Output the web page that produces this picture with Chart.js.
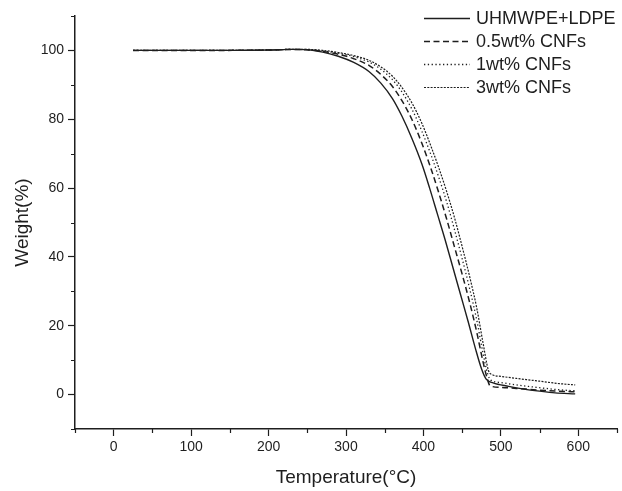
<!DOCTYPE html>
<html>
<head>
<meta charset="utf-8">
<script src="https://cdn.jsdelivr.net/npm/chart.js@4.4.1/dist/chart.umd.min.js"></script>
<style>
  html, body { margin: 0; padding: 0; background: #fff; }
  #wrap { width: 622px; height: 491px; }
</style>
</head>
<body>
<div id="wrap"><canvas id="myChart" width="622" height="491"></canvas></div>
<script>
// series labels
const seriesLabels = ['UHMWPE+LDPE', '0.5wt% CNFs', '1wt% CNFs', '3wt% CNFs'];

// temperature (°C) / weight (%)
const tempNeat = [25, 100, 150, 200, 230, 250, 270, 290, 310, 330, 345, 360, 372, 385, 398, 408, 418, 428, 438, 448, 458, 467, 475, 481, 490, 510, 530, 550, 570, 596];
const weightNeat = [100, 100, 100, 100.1, 100.3, 100.2, 99.5, 98.3, 96.5, 93.8, 90.5, 86, 81, 74.5, 67, 60, 52.5, 45, 37, 29, 21, 13.5, 7.5, 4.5, 3.4, 2.4, 1.6, 1, 0.5, 0.2];

const temp05 = [25, 100, 200, 230, 250, 270, 290, 310, 330, 345, 360, 372, 385, 398, 410, 420, 430, 440, 450, 460, 469, 477, 482, 486, 500, 520, 550, 575, 596];
const weight05 = [100, 100, 100.1, 100.3, 100.2, 99.7, 98.9, 97.6, 95.6, 93, 89.5, 85.5, 80, 73, 65.5, 58.5, 51, 43, 35, 26.5, 18, 9.5, 5, 2.6, 2.1, 1.8, 1.3, 1, 0.8];

const temp1 = [25, 100, 200, 230, 250, 270, 290, 310, 330, 345, 360, 372, 385, 398, 410, 420, 430, 440, 450, 460, 469, 477, 483, 487, 500, 520, 550, 575, 596];
const weight1 = [100, 100, 100.1, 100.3, 100.2, 99.8, 99.2, 98.2, 96.6, 94.5, 91.5, 88, 83, 76.5, 69.5, 63, 56, 48, 39.5, 30.5, 21.5, 12, 6, 4.2, 3.5, 2.8, 2, 1.4, 1.1];

const temp3 = [25, 100, 200, 230, 250, 270, 290, 310, 330, 345, 360, 372, 385, 398, 410, 420, 430, 440, 450, 460, 469, 477, 484, 489, 500, 520, 550, 575, 596];
const weight3 = [100, 100, 100.1, 100.3, 100.3, 100, 99.4, 98.5, 97.1, 95.2, 92.5, 89.3, 84.8, 78.8, 72, 65.8, 59, 51.5, 43, 34, 25, 15, 7, 5.8, 5.3, 4.7, 3.9, 3.2, 2.8];

// tick values
const xMajorTicks = [0, 100, 200, 300, 400, 500, 600];
const xMinorTicks = [-50, 50, 150, 250, 350, 450, 550, 650];
const yMajorTicks = [0, 20, 40, 60, 80, 100];
const yMinorTicks = [-10, 10, 30, 50, 70, 90, 110];

const FONT = '"Liberation Sans", Arial, sans-serif';
const INK = '#1e1e1e';

function toPoints(xs, ys) {
  return xs.map((x, i) => ({ x: x, y: ys[i] }));
}

function makeSet(label, xs, ys, dash, width) {
  return {
    label: label,
    data: toPoints(xs, ys),
    borderColor: INK,
    borderWidth: width,
    borderDash: dash,
    pointRadius: 0,
    fill: false,
    cubicInterpolationMode: 'monotone',
  };
}

// minor ticks (shorter than the major ones)
const minorTicks = {
  id: 'minorTicks',
  afterDraw(chart) {
    const ctx = chart.ctx;
    const xs = chart.scales.x;
    const ys = chart.scales.y;
    const area = chart.chartArea;
    ctx.save();
    ctx.strokeStyle = INK;
    ctx.lineWidth = 1.2;
    ctx.beginPath();
    xMinorTicks.forEach((v) => {
      const px = Math.round(xs.getPixelForValue(v)) + 0.5;
      ctx.moveTo(px, area.bottom);
      ctx.lineTo(px, area.bottom + 4);
    });
    yMinorTicks.forEach((v) => {
      const py = Math.round(ys.getPixelForValue(v)) + 0.5;
      ctx.moveTo(area.left - 4, py);
      ctx.lineTo(area.left, py);
    });
    ctx.stroke();
    ctx.restore();
  },
};

// legend inside the plot, top right
const insideLegend = {
  id: 'insideLegend',
  afterDraw(chart) {
    const ctx = chart.ctx;
    ctx.save();
    ctx.font = '18px ' + FONT;
    ctx.textBaseline = 'middle';
    ctx.fillStyle = INK;
    chart.data.datasets.forEach((ds, i) => {
      const y = 18 + i * 23;
      ctx.beginPath();
      ctx.strokeStyle = INK;
      ctx.lineWidth = ds.borderWidth;
      ctx.setLineDash(ds.borderDash);
      ctx.moveTo(424, y + 0.5);
      ctx.lineTo(470, y + 0.5);
      ctx.stroke();
      ctx.setLineDash([]);
      ctx.fillText(ds.label, 476, y + 1);
    });
    ctx.restore();
  },
};

const data = {
  datasets: [
    makeSet(seriesLabels[0], tempNeat, weightNeat, [], 1.4),
    makeSet(seriesLabels[1], temp05, weight05, [6, 3.5], 1.5),
    makeSet(seriesLabels[2], temp1, weight1, [1.3, 2.5], 1.3),
    makeSet(seriesLabels[3], temp3, weight3, [2, 1.3], 1.2),
  ],
};

const config = {
  type: 'line',
  data: data,
  options: {
    responsive: false,
    animation: false,
    layout: { padding: { left: 0, top: 16, right: 5, bottom: 0 } },
    plugins: {
      legend: { display: false },
      tooltip: { enabled: false },
    },
    scales: {
      x: {
        type: 'linear',
        min: -50,
        max: 650,
        afterBuildTicks: (scale) => {
          scale.ticks = xMajorTicks.map((v) => ({ value: v }));
        },
        afterFit: (scale) => {
          scale.height = 62;
          scale.paddingLeft = 0;
          scale.paddingRight = 0;
        },
        grid: { drawOnChartArea: false, drawTicks: true, tickLength: 7, tickColor: INK, tickWidth: 1.2 },
        border: { display: true, color: INK, width: 1.5 },
        ticks: { color: INK, font: { family: FONT, size: 14 }, padding: 3, maxRotation: 0 },
        title: {
          display: true,
          text: 'Temperature(°C)',
          color: INK,
          font: { family: FONT, size: 19 },
          padding: { top: 0, bottom: 2 },
        },
      },
      y: {
        min: -10,
        max: 110,
        afterBuildTicks: (scale) => {
          scale.ticks = yMajorTicks.map((v) => ({ value: v }));
        },
        afterFit: (scale) => {
          scale.width = 75;
          scale.paddingTop = 0;
          scale.paddingBottom = 0;
        },
        grid: { drawOnChartArea: false, drawTicks: true, tickLength: 7, tickColor: INK, tickWidth: 1.2 },
        border: { display: true, color: INK, width: 1.5 },
        ticks: { color: INK, font: { family: FONT, size: 14 }, padding: 4 },
        title: {
          display: true,
          text: 'Weight(%)',
          color: INK,
          font: { family: FONT, size: 19 },
          padding: { top: 11, bottom: 0 },
        },
      },
    },
  },
  plugins: [minorTicks, insideLegend],
};

const myChart = new Chart(document.getElementById('myChart'), config);
</script>
</body>
</html>
